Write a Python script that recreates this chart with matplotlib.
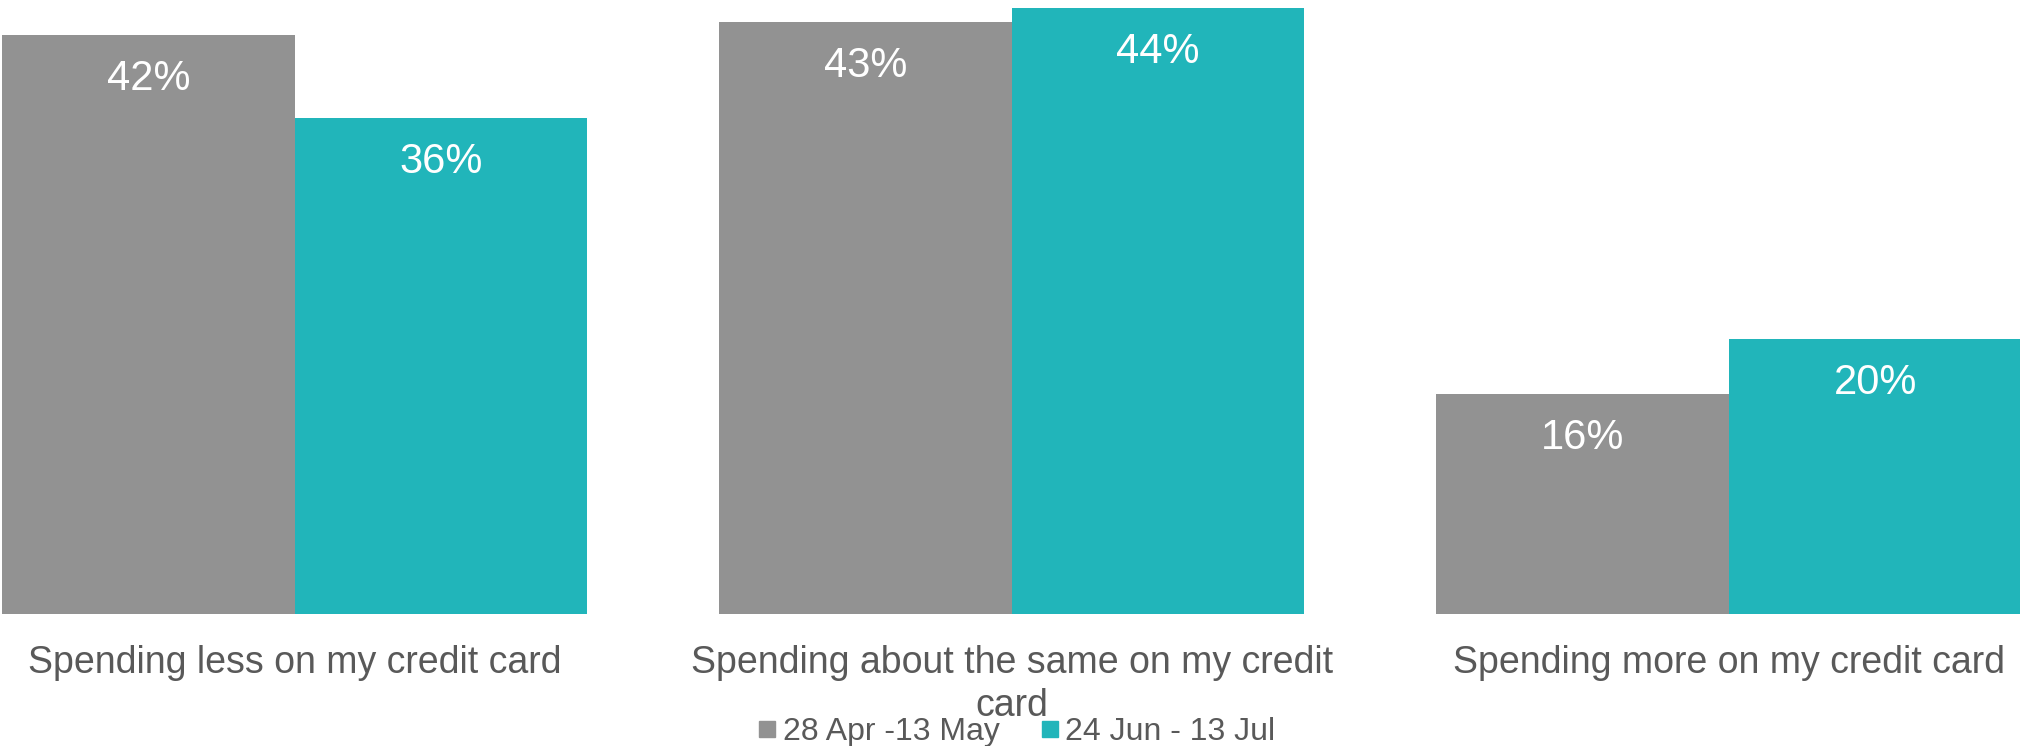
import matplotlib
matplotlib.use("Agg")
import matplotlib.pyplot as plt
from matplotlib.lines import Line2D
import numpy as np

plt.rcParams['font.family'] = ['Liberation Sans', 'DejaVu Sans']

categories = [
    "Spending less on my credit card",
    "Spending about the same on my credit\ncard",
    "Spending more on my credit card",
]
series_names = ["28 Apr -13 May", "24 Jun - 13 Jul"]
wave1 = [42, 43, 16]
wave2 = [36, 44, 20]
colors = ["#929292", "#21B5BA"]

fig = plt.figure(figsize=(20.2, 7.46), dpi=100)
ax = fig.add_axes([0, 0.1763, 1, 0.8237])

x = np.arange(len(categories))
w = 0.408
bars1 = ax.bar(x - w / 2, wave1, width=w, color=colors[0], linewidth=0)
bars2 = ax.bar(x + w / 2, wave2, width=w, color=colors[1], linewidth=0)

ax.set_xlim(-0.411, 2.406)
ax.set_ylim(0, 44.56)
ax.axis("off")

for bars, vals in ((bars1, wave1), (bars2, wave2)):
    for b, v in zip(bars, vals):
        ax.text(b.get_x() + b.get_width() / 2, v - 3.2, f"{v}%",
                ha="center", va="center", color="white", fontsize=30)

for xi, cat in zip(x, categories):
    ax.text(xi, -0.049, cat, transform=ax.get_xaxis_transform(),
            ha="center", va="top", color="#595959", fontsize=27,
            linespacing=1.26)

handles = [Line2D([], [], marker="s", linestyle="none", markersize=12,
                  markerfacecolor=c, markeredgecolor=c) for c in colors]
fig.legend(handles, series_names, loc="center", ncol=2,
           bbox_to_anchor=(1015 / 2020, 1 - 732 / 746), frameon=False,
           fontsize=23, labelcolor="#595959", handletextpad=0.1,
           columnspacing=1.15, handlelength=0.8)

fig.savefig("out.png", dpi=100)
